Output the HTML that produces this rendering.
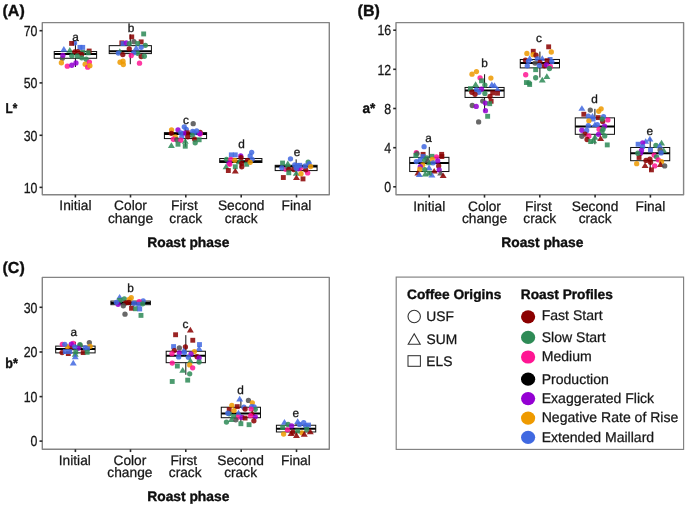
<!DOCTYPE html>
<html lang="en">
<head>
<meta charset="utf-8">
<title>Roast phase color measurements</title>
<style>
html, body { margin: 0; padding: 0; background: #ffffff; }
body { width: 685px; height: 507px; overflow: hidden; }
svg { display: block; font-family: "Liberation Sans", Arial, Helvetica, sans-serif; text-rendering: geometricPrecision; }
text.r { fill: #161616; stroke: #161616; stroke-width: 0.25px; }
text.l { stroke-width: 0.32px; }
text.b { fill: #0c0c0c; stroke: #0c0c0c; stroke-width: 0.35px; font-weight: bold; }
</style>
</head>
<body>
<svg width="685" height="507" viewBox="0 0 685 507">
<defs><filter id="soft" x="0" y="0" width="685" height="507" filterUnits="userSpaceOnUse"><feGaussianBlur stdDeviation="0.5"/></filter></defs>
<rect x="0" y="0" width="685" height="507" fill="#ffffff"/>
<g filter="url(#soft)">
<g>
<text class="b" x="2.5" y="15.5" font-size="16">(A)</text>
<line x1="75.43" y1="42.89" x2="75.43" y2="51.53" stroke="#111" stroke-width="1"/>
<line x1="75.43" y1="58.28" x2="75.43" y2="67.01" stroke="#111" stroke-width="1"/>
<rect x="54.24" y="51.53" width="42.38" height="6.75" fill="none" stroke="#111" stroke-width="1"/>
<line x1="54.24" y1="54.01" x2="96.62" y2="54.01" stroke="#000" stroke-width="2"/>
<line x1="130.31" y1="34.43" x2="130.31" y2="45.65" stroke="#111" stroke-width="1"/>
<line x1="130.31" y1="53.59" x2="130.31" y2="64.21" stroke="#111" stroke-width="1"/>
<rect x="109.22" y="45.65" width="42.18" height="7.94" fill="none" stroke="#111" stroke-width="1"/>
<line x1="109.22" y1="51.31" x2="151.40" y2="51.31" stroke="#000" stroke-width="2"/>
<line x1="185.5" y1="126.86" x2="185.5" y2="132.62" stroke="#111" stroke-width="1"/>
<line x1="185.5" y1="138.58" x2="185.5" y2="146.72" stroke="#111" stroke-width="1"/>
<rect x="164.41" y="132.62" width="42.18" height="5.96" fill="none" stroke="#111" stroke-width="1"/>
<line x1="164.41" y1="134.01" x2="206.59" y2="134.01" stroke="#000" stroke-width="2"/>
<line x1="240.8" y1="153.86" x2="240.8" y2="158.53" stroke="#111" stroke-width="1"/>
<line x1="240.8" y1="162.5" x2="240.8" y2="167.76" stroke="#111" stroke-width="1"/>
<rect x="219.71" y="158.53" width="42.18" height="3.97" fill="none" stroke="#111" stroke-width="1"/>
<line x1="219.71" y1="161.21" x2="261.89" y2="161.21" stroke="#000" stroke-width="2"/>
<line x1="296.15" y1="159.36" x2="296.15" y2="165.31" stroke="#111" stroke-width="1"/>
<line x1="296.15" y1="170.58" x2="296.15" y2="174.74" stroke="#111" stroke-width="1"/>
<rect x="275.20" y="165.31" width="41.9" height="5.27" fill="none" stroke="#111" stroke-width="1"/>
<line x1="275.20" y1="166.6" x2="317.10" y2="166.6" stroke="#000" stroke-width="2"/>
<circle cx="74.58" cy="42.89" r="2.65" fill="#4169E1" fill-opacity="0.86"/>
<rect x="69.16" y="40.95" width="4.88" height="4.88" fill="#8B0000" fill-opacity="0.86"/>
<polygon points="63.86,46.03 67.34,51.73 60.38,51.73" fill="#4169E1" fill-opacity="0.86"/>
<rect x="77.50" y="44.92" width="4.88" height="4.88" fill="#4169E1" fill-opacity="0.86"/>
<rect x="80.28" y="44.92" width="4.88" height="4.88" fill="#4169E1" fill-opacity="0.86"/>
<polygon points="69.82,47.03 73.30,52.73 66.34,52.73" fill="#2E8B57" fill-opacity="0.86"/>
<rect x="86.74" y="48.59" width="4.88" height="4.88" fill="#8B0000" fill-opacity="0.86"/>
<rect x="80.28" y="49.88" width="4.88" height="4.88" fill="#2E8B57" fill-opacity="0.86"/>
<rect x="85.74" y="50.38" width="4.88" height="4.88" fill="#2E8B57" fill-opacity="0.86"/>
<circle cx="74.78" cy="51.82" r="2.65" fill="#8B0000" fill-opacity="0.86"/>
<circle cx="77.76" cy="51.63" r="2.65" fill="#8B0000" fill-opacity="0.86"/>
<circle cx="62.37" cy="58.28" r="2.65" fill="#4f4f4f" fill-opacity="0.86"/>
<circle cx="62.87" cy="55.3" r="2.65" fill="#9400D3" fill-opacity="0.86"/>
<circle cx="81.73" cy="54.31" r="2.65" fill="#8B0000" fill-opacity="0.86"/>
<circle cx="71.8" cy="55.8" r="2.65" fill="#2E8B57" fill-opacity="0.86"/>
<circle cx="77.26" cy="55.99" r="2.65" fill="#2E8B57" fill-opacity="0.86"/>
<circle cx="81.73" cy="57.78" r="2.65" fill="#2E8B57" fill-opacity="0.86"/>
<circle cx="86.2" cy="59.27" r="2.65" fill="#2E8B57" fill-opacity="0.86"/>
<circle cx="61.38" cy="62.74" r="2.65" fill="#EE9A00" fill-opacity="0.86"/>
<circle cx="67.34" cy="66.22" r="2.65" fill="#FF1493" fill-opacity="0.86"/>
<circle cx="71.8" cy="65.23" r="2.65" fill="#9400D3" fill-opacity="0.86"/>
<circle cx="75.97" cy="62.94" r="2.65" fill="#9400D3" fill-opacity="0.86"/>
<circle cx="85.2" cy="64.23" r="2.65" fill="#EE9A00" fill-opacity="0.86"/>
<circle cx="87.69" cy="67.21" r="2.65" fill="#FF1493" fill-opacity="0.86"/>
<circle cx="89.37" cy="62.05" r="2.65" fill="#FF1493" fill-opacity="0.86"/>
<circle cx="89.87" cy="65.72" r="2.65" fill="#EE9A00" fill-opacity="0.86"/>
<rect x="141.22" y="31.49" width="4.88" height="4.88" fill="#2E8B57" fill-opacity="0.86"/>
<rect x="129.30" y="34.47" width="4.88" height="4.88" fill="#8B0000" fill-opacity="0.86"/>
<circle cx="133.93" cy="41.68" r="2.65" fill="#4f4f4f" fill-opacity="0.86"/>
<rect x="138.74" y="39.44" width="4.88" height="4.88" fill="#8B0000" fill-opacity="0.86"/>
<rect x="119.38" y="40.43" width="4.88" height="4.88" fill="#8B0000" fill-opacity="0.86"/>
<rect x="120.57" y="41.12" width="4.88" height="4.88" fill="#4169E1" fill-opacity="0.86"/>
<circle cx="126.28" cy="42.87" r="2.65" fill="#9400D3" fill-opacity="0.86"/>
<circle cx="129.26" cy="43.56" r="2.65" fill="#2E8B57" fill-opacity="0.86"/>
<rect x="135.26" y="41.12" width="4.88" height="4.88" fill="#2E8B57" fill-opacity="0.86"/>
<circle cx="145.34" cy="45.35" r="2.65" fill="#2E8B57" fill-opacity="0.86"/>
<circle cx="141.18" cy="47.34" r="2.65" fill="#4169E1" fill-opacity="0.86"/>
<polygon points="136.21,44.72 139.69,50.41 132.73,50.41" fill="#4169E1" fill-opacity="0.86"/>
<circle cx="129.26" cy="48.82" r="2.65" fill="#8B0000" fill-opacity="0.86"/>
<polygon points="119.83,48.29 123.31,53.98 116.35,53.98" fill="#2E8B57" fill-opacity="0.86"/>
<circle cx="118.34" cy="53.09" r="2.65" fill="#4169E1" fill-opacity="0.86"/>
<circle cx="122.81" cy="54.58" r="2.65" fill="#8B0000" fill-opacity="0.86"/>
<circle cx="137.7" cy="53.29" r="2.65" fill="#2E8B57" fill-opacity="0.86"/>
<circle cx="133.73" cy="52.8" r="2.65" fill="#4169E1" fill-opacity="0.86"/>
<circle cx="131.25" cy="55.58" r="2.65" fill="#FF1493" fill-opacity="0.86"/>
<circle cx="141.18" cy="56.57" r="2.65" fill="#8B0000" fill-opacity="0.86"/>
<circle cx="144.35" cy="56.27" r="2.65" fill="#2E8B57" fill-opacity="0.86"/>
<circle cx="120.03" cy="62.23" r="2.65" fill="#EE9A00" fill-opacity="0.86"/>
<circle cx="123.01" cy="61.23" r="2.65" fill="#EE9A00" fill-opacity="0.86"/>
<circle cx="123.31" cy="64.51" r="2.65" fill="#EE9A00" fill-opacity="0.86"/>
<circle cx="139.49" cy="63.22" r="2.65" fill="#FF1493" fill-opacity="0.86"/>
<circle cx="193.2" cy="123.68" r="2.65" fill="#4f4f4f" fill-opacity="0.86"/>
<circle cx="184.26" cy="126.86" r="2.65" fill="#4169E1" fill-opacity="0.86"/>
<circle cx="186.25" cy="129.34" r="2.65" fill="#4169E1" fill-opacity="0.86"/>
<circle cx="171.56" cy="129.84" r="2.65" fill="#EE9A00" fill-opacity="0.86"/>
<circle cx="178.01" cy="129.84" r="2.65" fill="#9400D3" fill-opacity="0.86"/>
<circle cx="171.36" cy="133.31" r="2.65" fill="#8B0000" fill-opacity="0.86"/>
<circle cx="200.15" cy="132.32" r="2.65" fill="#8B0000" fill-opacity="0.86"/>
<circle cx="200.15" cy="134.01" r="2.65" fill="#FF1493" fill-opacity="0.86"/>
<circle cx="199.65" cy="133.61" r="2.65" fill="#9400D3" fill-opacity="0.86"/>
<rect x="184.80" y="130.38" width="4.88" height="4.88" fill="#8B0000" fill-opacity="0.86"/>
<rect x="181.33" y="130.87" width="4.88" height="4.88" fill="#9400D3" fill-opacity="0.86"/>
<circle cx="180.79" cy="132.82" r="2.65" fill="#4169E1" fill-opacity="0.86"/>
<circle cx="192.7" cy="131.33" r="2.65" fill="#4169E1" fill-opacity="0.86"/>
<circle cx="196.67" cy="130.83" r="2.65" fill="#4169E1" fill-opacity="0.86"/>
<rect x="191.75" y="130.38" width="4.88" height="4.88" fill="#4169E1" fill-opacity="0.86"/>
<circle cx="192.2" cy="135.3" r="2.65" fill="#2E8B57" fill-opacity="0.86"/>
<circle cx="187.74" cy="136.79" r="2.65" fill="#8B0000" fill-opacity="0.86"/>
<circle cx="175.33" cy="136.79" r="2.65" fill="#EE9A00" fill-opacity="0.86"/>
<circle cx="181.78" cy="136.79" r="2.65" fill="#4169E1" fill-opacity="0.86"/>
<circle cx="173.34" cy="139.27" r="2.65" fill="#FF1493" fill-opacity="0.86"/>
<circle cx="176.82" cy="139.77" r="2.65" fill="#4f4f4f" fill-opacity="0.86"/>
<circle cx="180.79" cy="140.26" r="2.65" fill="#FF1493" fill-opacity="0.86"/>
<circle cx="194.69" cy="139.27" r="2.65" fill="#8B0000" fill-opacity="0.86"/>
<rect x="196.71" y="137.33" width="4.88" height="4.88" fill="#2E8B57" fill-opacity="0.86"/>
<polygon points="171.36,142.21 174.84,147.91 167.88,147.91" fill="#2E8B57" fill-opacity="0.86"/>
<rect x="175.57" y="141.79" width="4.88" height="4.88" fill="#2E8B57" fill-opacity="0.86"/>
<polygon points="185.26,137.95 188.74,143.64 181.78,143.64" fill="#2E8B57" fill-opacity="0.86"/>
<rect x="182.82" y="143.78" width="4.88" height="4.88" fill="#2E8B57" fill-opacity="0.86"/>
<circle cx="195.18" cy="142.74" r="2.65" fill="#2E8B57" fill-opacity="0.86"/>
<circle cx="251.67" cy="152.37" r="2.65" fill="#4169E1" fill-opacity="0.86"/>
<circle cx="250.18" cy="155.85" r="2.65" fill="#4169E1" fill-opacity="0.86"/>
<rect x="228.88" y="152.41" width="4.88" height="4.88" fill="#4169E1" fill-opacity="0.86"/>
<rect x="232.85" y="152.41" width="4.88" height="4.88" fill="#4169E1" fill-opacity="0.86"/>
<circle cx="240.75" cy="155.85" r="2.65" fill="#9400D3" fill-opacity="0.86"/>
<circle cx="241.05" cy="157.63" r="2.65" fill="#8B0000" fill-opacity="0.86"/>
<circle cx="252.17" cy="159.32" r="2.65" fill="#4169E1" fill-opacity="0.86"/>
<circle cx="226.56" cy="159.32" r="2.65" fill="#2E8B57" fill-opacity="0.86"/>
<circle cx="230.82" cy="159.32" r="2.65" fill="#FF1493" fill-opacity="0.86"/>
<circle cx="234.8" cy="160.31" r="2.65" fill="#EE9A00" fill-opacity="0.86"/>
<circle cx="247.5" cy="160.31" r="2.65" fill="#8B0000" fill-opacity="0.86"/>
<polygon points="239.26,158.49 242.74,164.19 235.78,164.19" fill="#2E8B57" fill-opacity="0.86"/>
<circle cx="229.04" cy="163.29" r="2.65" fill="#9400D3" fill-opacity="0.86"/>
<circle cx="229.83" cy="164.28" r="2.65" fill="#FF1493" fill-opacity="0.86"/>
<circle cx="241.74" cy="163.29" r="2.65" fill="#8B0000" fill-opacity="0.86"/>
<rect x="244.27" y="161.84" width="4.88" height="4.88" fill="#2E8B57" fill-opacity="0.86"/>
<circle cx="250.18" cy="162.3" r="2.65" fill="#EE9A00" fill-opacity="0.86"/>
<circle cx="241.74" cy="166.77" r="2.65" fill="#8B0000" fill-opacity="0.86"/>
<polygon points="226.06,163.46 229.54,169.16 222.58,169.16" fill="#2E8B57" fill-opacity="0.86"/>
<rect x="232.85" y="164.33" width="4.88" height="4.88" fill="#2E8B57" fill-opacity="0.86"/>
<rect x="225.90" y="168.10" width="4.88" height="4.88" fill="#8B0000" fill-opacity="0.86"/>
<polygon points="235.29,167.92 238.77,173.61 231.81,173.61" fill="#8B0000" fill-opacity="0.86"/>
<circle cx="285.82" cy="169.28" r="2.65" fill="#FF1493" fill-opacity="0.86"/>
<circle cx="300.22" cy="168.29" r="2.65" fill="#FF1493" fill-opacity="0.86"/>
<circle cx="307.66" cy="172.96" r="2.65" fill="#FF1493" fill-opacity="0.86"/>
<circle cx="290.49" cy="158.86" r="2.65" fill="#4169E1" fill-opacity="0.86"/>
<rect x="280.11" y="160.59" width="4.88" height="4.88" fill="#2E8B57" fill-opacity="0.86"/>
<polygon points="287.81,160.51 291.29,166.20 284.33,166.20" fill="#2E8B57" fill-opacity="0.86"/>
<circle cx="308.16" cy="162.04" r="2.65" fill="#2E8B57" fill-opacity="0.86"/>
<circle cx="309.15" cy="163.63" r="2.65" fill="#4169E1" fill-opacity="0.86"/>
<circle cx="310.64" cy="166.6" r="2.65" fill="#EE9A00" fill-opacity="0.86"/>
<circle cx="281.85" cy="167.8" r="2.65" fill="#4169E1" fill-opacity="0.86"/>
<rect x="285.37" y="164.56" width="4.88" height="4.88" fill="#2E8B57" fill-opacity="0.86"/>
<circle cx="288.8" cy="169.48" r="2.65" fill="#8B0000" fill-opacity="0.86"/>
<circle cx="293.77" cy="169.48" r="2.65" fill="#8B0000" fill-opacity="0.86"/>
<circle cx="297.94" cy="168.79" r="2.65" fill="#9400D3" fill-opacity="0.86"/>
<circle cx="305.68" cy="169.78" r="2.65" fill="#8B0000" fill-opacity="0.86"/>
<rect x="286.36" y="170.32" width="4.88" height="4.88" fill="#2E8B57" fill-opacity="0.86"/>
<polygon points="296.25,169.95 299.73,175.64 292.77,175.64" fill="#2E8B57" fill-opacity="0.86"/>
<circle cx="301.01" cy="173.75" r="2.65" fill="#EE9A00" fill-opacity="0.86"/>
<circle cx="294.76" cy="165.02" r="2.65" fill="#4169E1" fill-opacity="0.86"/>
<rect x="294.80" y="163.17" width="4.88" height="4.88" fill="#4169E1" fill-opacity="0.86"/>
<rect x="297.28" y="162.87" width="4.88" height="4.88" fill="#4169E1" fill-opacity="0.86"/>
<circle cx="305.18" cy="166.01" r="2.65" fill="#4169E1" fill-opacity="0.86"/>
<circle cx="296.25" cy="168.29" r="2.65" fill="#4169E1" fill-opacity="0.86"/>
<rect x="280.90" y="175.08" width="4.88" height="4.88" fill="#8B0000" fill-opacity="0.86"/>
<polygon points="296.45,174.41 299.93,180.10 292.97,180.10" fill="#8B0000" fill-opacity="0.86"/>
<rect x="300.56" y="176.47" width="4.88" height="4.88" fill="#8B0000" fill-opacity="0.86"/>
<text class="r l" x="75.58" y="40.81" font-size="11.8" text-anchor="middle">a</text>
<text class="r l" x="131.05" y="32.15" font-size="11.8" text-anchor="middle">b</text>
<text class="r l" x="186.05" y="124.28" font-size="11.8" text-anchor="middle">c</text>
<text class="r l" x="241.45" y="148.31" font-size="11.8" text-anchor="middle">d</text>
<text class="r l" x="296.94" y="156.08" font-size="11.8" text-anchor="middle">e</text>
<rect x="42.3" y="22.6" width="287.00" height="172.10" fill="none" stroke="#848484" stroke-width="1.4" stroke-linejoin="round"/>
<line x1="39.5" y1="30.7" x2="42.3" y2="30.7" stroke="#2a2a2a" stroke-width="1.6"/>
<text class="r" transform="translate(37.50,35.90) scale(0.885,1.04)" font-size="14.0" text-anchor="end">70</text>
<line x1="39.5" y1="82.9" x2="42.3" y2="82.9" stroke="#2a2a2a" stroke-width="1.6"/>
<text class="r" transform="translate(37.50,88.10) scale(0.885,1.04)" font-size="14.0" text-anchor="end">50</text>
<line x1="39.5" y1="135.3" x2="42.3" y2="135.3" stroke="#2a2a2a" stroke-width="1.6"/>
<text class="r" transform="translate(37.50,140.50) scale(0.885,1.04)" font-size="14.0" text-anchor="end">30</text>
<line x1="39.5" y1="187.4" x2="42.3" y2="187.4" stroke="#2a2a2a" stroke-width="1.6"/>
<text class="r" transform="translate(37.50,192.60) scale(0.885,1.04)" font-size="14.0" text-anchor="end">10</text>
<line x1="75.4" y1="194.7" x2="75.4" y2="197.5" stroke="#2a2a2a" stroke-width="1.6"/>
<text class="r" x="75.40" y="210.20" font-size="13.75" text-anchor="middle">Initial</text>
<line x1="130.5" y1="194.7" x2="130.5" y2="197.5" stroke="#2a2a2a" stroke-width="1.6"/>
<text class="r" x="130.50" y="210.20" font-size="13.75" text-anchor="middle">Color</text>
<text class="r" x="130.50" y="222.60" font-size="13.75" text-anchor="middle">change</text>
<line x1="185.8" y1="194.7" x2="185.8" y2="197.5" stroke="#2a2a2a" stroke-width="1.6"/>
<text class="r" x="184.40" y="210.20" font-size="13.75" text-anchor="middle">First</text>
<text class="r" x="185.80" y="222.60" font-size="13.75" text-anchor="middle">crack</text>
<line x1="241.2" y1="194.7" x2="241.2" y2="197.5" stroke="#2a2a2a" stroke-width="1.6"/>
<text class="r" x="241.20" y="210.20" font-size="13.75" text-anchor="middle">Second</text>
<text class="r" x="241.20" y="222.60" font-size="13.75" text-anchor="middle">crack</text>
<line x1="296.5" y1="194.7" x2="296.5" y2="197.5" stroke="#2a2a2a" stroke-width="1.6"/>
<text class="r" x="296.50" y="210.20" font-size="13.75" text-anchor="middle">Final</text>
<text class="b" transform="translate(5.5,113.0) scale(0.85,1.03)" font-size="13.8">L*</text>
<text class="b" x="188.30" y="246.7" font-size="13.8" text-anchor="middle">Roast phase</text>
</g>
<g>
<text class="b" x="357.6" y="15.5" font-size="16">(B)</text>
<line x1="429.3" y1="146.91" x2="429.3" y2="157.34" stroke="#111" stroke-width="1"/>
<line x1="429.3" y1="171.53" x2="429.3" y2="174.71" stroke="#111" stroke-width="1"/>
<rect x="409.69" y="157.34" width="39.22" height="14.19" fill="none" stroke="#111" stroke-width="1"/>
<line x1="409.69" y1="162.99" x2="448.91" y2="162.99" stroke="#000" stroke-width="2"/>
<line x1="484.58" y1="74.22" x2="484.58" y2="87.45" stroke="#111" stroke-width="1"/>
<line x1="484.58" y1="97.43" x2="484.58" y2="111.49" stroke="#111" stroke-width="1"/>
<rect x="465.04" y="87.45" width="39.08" height="9.98" fill="none" stroke="#111" stroke-width="1"/>
<line x1="465.04" y1="90.45" x2="504.12" y2="90.45" stroke="#000" stroke-width="2"/>
<line x1="539.88" y1="51.64" x2="539.88" y2="59.46" stroke="#111" stroke-width="1"/>
<line x1="539.88" y1="67.87" x2="539.88" y2="77.49" stroke="#111" stroke-width="1"/>
<rect x="520.28" y="59.46" width="39.2" height="8.41" fill="none" stroke="#111" stroke-width="1"/>
<line x1="520.28" y1="63.06" x2="559.48" y2="63.06" stroke="#000" stroke-width="2"/>
<line x1="594.88" y1="108.83" x2="594.88" y2="117.85" stroke="#111" stroke-width="1"/>
<line x1="594.88" y1="134.32" x2="594.88" y2="144.3" stroke="#111" stroke-width="1"/>
<rect x="575.28" y="117.85" width="39.2" height="16.47" fill="none" stroke="#111" stroke-width="1"/>
<line x1="575.28" y1="126.51" x2="614.48" y2="126.51" stroke="#000" stroke-width="2"/>
<line x1="650.19" y1="138.23" x2="650.19" y2="147.48" stroke="#111" stroke-width="1"/>
<line x1="650.19" y1="160.71" x2="650.19" y2="170.69" stroke="#111" stroke-width="1"/>
<rect x="630.65" y="147.48" width="39.08" height="13.23" fill="none" stroke="#111" stroke-width="1"/>
<line x1="630.65" y1="153.26" x2="669.73" y2="153.26" stroke="#000" stroke-width="2"/>
<circle cx="424.09" cy="146.71" r="2.65" fill="#4169E1" fill-opacity="0.86"/>
<circle cx="416.34" cy="152.67" r="2.65" fill="#FF1493" fill-opacity="0.86"/>
<circle cx="417.04" cy="153.56" r="2.65" fill="#4f4f4f" fill-opacity="0.86"/>
<rect x="413.41" y="153.11" width="4.88" height="4.88" fill="#2E8B57" fill-opacity="0.86"/>
<rect x="420.65" y="151.92" width="4.88" height="4.88" fill="#8B0000" fill-opacity="0.86"/>
<rect x="420.65" y="154.10" width="4.88" height="4.88" fill="#4169E1" fill-opacity="0.86"/>
<rect x="439.22" y="151.92" width="4.88" height="4.88" fill="#8B0000" fill-opacity="0.86"/>
<rect x="439.42" y="154.10" width="4.88" height="4.88" fill="#8B0000" fill-opacity="0.86"/>
<rect x="429.59" y="153.90" width="4.88" height="4.88" fill="#2E8B57" fill-opacity="0.86"/>
<circle cx="436.49" cy="156.84" r="2.65" fill="#FF1493" fill-opacity="0.86"/>
<circle cx="426.77" cy="157.83" r="2.65" fill="#2E8B57" fill-opacity="0.86"/>
<circle cx="432.23" cy="159.32" r="2.65" fill="#EE9A00" fill-opacity="0.86"/>
<circle cx="416.34" cy="161.6" r="2.65" fill="#4169E1" fill-opacity="0.86"/>
<circle cx="420.31" cy="159.82" r="2.65" fill="#4169E1" fill-opacity="0.86"/>
<circle cx="424.78" cy="160.31" r="2.65" fill="#2E8B57" fill-opacity="0.86"/>
<polygon points="427.76,157.00 431.24,162.69 424.28,162.69" fill="#4f4f4f" fill-opacity="0.86"/>
<circle cx="437.69" cy="161.01" r="2.65" fill="#9400D3" fill-opacity="0.86"/>
<polygon points="429.25,159.49 432.73,165.19 425.77,165.19" fill="#2E8B57" fill-opacity="0.86"/>
<circle cx="433.22" cy="162.8" r="2.65" fill="#4169E1" fill-opacity="0.86"/>
<circle cx="422.8" cy="164.78" r="2.65" fill="#EE9A00" fill-opacity="0.86"/>
<circle cx="438.68" cy="165.97" r="2.65" fill="#8B0000" fill-opacity="0.86"/>
<circle cx="420.31" cy="166.77" r="2.65" fill="#9400D3" fill-opacity="0.86"/>
<circle cx="419.82" cy="169.25" r="2.65" fill="#EE9A00" fill-opacity="0.86"/>
<polygon points="429.05,164.45 432.53,170.14 425.57,170.14" fill="#4169E1" fill-opacity="0.86"/>
<circle cx="424.78" cy="169.74" r="2.65" fill="#2E8B57" fill-opacity="0.86"/>
<circle cx="439.18" cy="169.94" r="2.65" fill="#9400D3" fill-opacity="0.86"/>
<polygon points="434.21,167.92 437.69,173.61 430.73,173.61" fill="#8B0000" fill-opacity="0.86"/>
<polygon points="417.83,169.91 421.31,175.60 414.35,175.60" fill="#8B0000" fill-opacity="0.86"/>
<polygon points="419.32,171.40 422.80,177.09 415.84,177.09" fill="#4169E1" fill-opacity="0.86"/>
<polygon points="425.28,170.90 428.76,176.59 421.80,176.59" fill="#2E8B57" fill-opacity="0.86"/>
<polygon points="431.93,171.89 435.41,177.58 428.45,177.58" fill="#4169E1" fill-opacity="0.86"/>
<polygon points="440.66,169.91 444.14,175.60 437.18,175.60" fill="#4f4f4f" fill-opacity="0.86"/>
<polygon points="443.15,172.39 446.63,178.08 439.67,178.08" fill="#8B0000" fill-opacity="0.86"/>
<rect x="426.81" y="170.78" width="4.88" height="4.88" fill="#2E8B57" fill-opacity="0.86"/>
<circle cx="476.46" cy="71.57" r="2.65" fill="#EE9A00" fill-opacity="0.86"/>
<circle cx="472.01" cy="74.22" r="2.65" fill="#EE9A00" fill-opacity="0.86"/>
<circle cx="480.07" cy="77.83" r="2.65" fill="#FF1493" fill-opacity="0.86"/>
<circle cx="490.89" cy="78.07" r="2.65" fill="#EE9A00" fill-opacity="0.86"/>
<rect x="479.07" y="78.39" width="4.88" height="4.88" fill="#2E8B57" fill-opacity="0.86"/>
<polygon points="475.62,81.37 479.10,87.07 472.14,87.07" fill="#2E8B57" fill-opacity="0.86"/>
<circle cx="484.88" cy="85.04" r="2.65" fill="#2E8B57" fill-opacity="0.86"/>
<polygon points="491.85,81.61 495.33,87.31 488.37,87.31" fill="#4169E1" fill-opacity="0.86"/>
<polygon points="494.50,82.33 497.98,88.03 491.02,88.03" fill="#4169E1" fill-opacity="0.86"/>
<rect x="468.01" y="86.21" width="4.88" height="4.88" fill="#2E8B57" fill-opacity="0.86"/>
<circle cx="476.46" cy="89.85" r="2.65" fill="#4169E1" fill-opacity="0.86"/>
<circle cx="481.51" cy="89.25" r="2.65" fill="#9400D3" fill-opacity="0.86"/>
<polygon points="497.50,86.18 500.98,91.88 494.02,91.88" fill="#4169E1" fill-opacity="0.86"/>
<circle cx="478.87" cy="92.26" r="2.65" fill="#4169E1" fill-opacity="0.86"/>
<circle cx="484.88" cy="93.46" r="2.65" fill="#2E8B57" fill-opacity="0.86"/>
<circle cx="471.89" cy="92.26" r="2.65" fill="#8B0000" fill-opacity="0.86"/>
<circle cx="475.02" cy="94.3" r="2.65" fill="#8B0000" fill-opacity="0.86"/>
<rect x="490.26" y="90.42" width="4.88" height="4.88" fill="#8B0000" fill-opacity="0.86"/>
<rect x="495.06" y="90.78" width="4.88" height="4.88" fill="#8B0000" fill-opacity="0.86"/>
<circle cx="490.05" cy="96.46" r="2.65" fill="#8B0000" fill-opacity="0.86"/>
<rect x="488.69" y="98.83" width="4.88" height="4.88" fill="#8B0000" fill-opacity="0.86"/>
<circle cx="482.72" cy="101.03" r="2.65" fill="#4f4f4f" fill-opacity="0.86"/>
<circle cx="485.48" cy="103.08" r="2.65" fill="#9400D3" fill-opacity="0.86"/>
<rect x="487.25" y="101.24" width="4.88" height="4.88" fill="#2E8B57" fill-opacity="0.86"/>
<circle cx="472.26" cy="105.48" r="2.65" fill="#4f4f4f" fill-opacity="0.86"/>
<circle cx="476.22" cy="106.44" r="2.65" fill="#9400D3" fill-opacity="0.86"/>
<circle cx="485.48" cy="110.65" r="2.65" fill="#9400D3" fill-opacity="0.86"/>
<rect x="485.21" y="113.86" width="4.88" height="4.88" fill="#2E8B57" fill-opacity="0.86"/>
<circle cx="478.63" cy="121.95" r="2.65" fill="#4f4f4f" fill-opacity="0.86"/>
<rect x="546.22" y="44.39" width="4.88" height="4.88" fill="#8B0000" fill-opacity="0.86"/>
<rect x="530.83" y="48.84" width="4.88" height="4.88" fill="#8B0000" fill-opacity="0.86"/>
<circle cx="551.3" cy="52.0" r="2.65" fill="#EE9A00" fill-opacity="0.86"/>
<circle cx="526.89" cy="53.45" r="2.65" fill="#EE9A00" fill-opacity="0.86"/>
<circle cx="533.03" cy="54.65" r="2.65" fill="#EE9A00" fill-opacity="0.86"/>
<circle cx="536.03" cy="55.25" r="2.65" fill="#8B0000" fill-opacity="0.86"/>
<circle cx="525.45" cy="60.06" r="2.65" fill="#8B0000" fill-opacity="0.86"/>
<polygon points="529.66,55.19 533.14,60.88 526.18,60.88" fill="#4169E1" fill-opacity="0.86"/>
<circle cx="537.48" cy="58.86" r="2.65" fill="#4169E1" fill-opacity="0.86"/>
<polygon points="542.28,55.19 545.76,60.88 538.80,60.88" fill="#4169E1" fill-opacity="0.86"/>
<rect x="547.66" y="57.02" width="4.88" height="4.88" fill="#4169E1" fill-opacity="0.86"/>
<rect x="544.65" y="58.22" width="4.88" height="4.88" fill="#8B0000" fill-opacity="0.86"/>
<circle cx="528.46" cy="61.26" r="2.65" fill="#4169E1" fill-opacity="0.86"/>
<circle cx="551.9" cy="61.86" r="2.65" fill="#4169E1" fill-opacity="0.86"/>
<circle cx="539.88" cy="62.46" r="2.65" fill="#8B0000" fill-opacity="0.86"/>
<circle cx="527.26" cy="65.83" r="2.65" fill="#4169E1" fill-opacity="0.86"/>
<circle cx="535.07" cy="63.06" r="2.65" fill="#4f4f4f" fill-opacity="0.86"/>
<circle cx="539.28" cy="65.47" r="2.65" fill="#4169E1" fill-opacity="0.86"/>
<circle cx="544.45" cy="65.83" r="2.65" fill="#8B0000" fill-opacity="0.86"/>
<circle cx="546.49" cy="64.87" r="2.65" fill="#9400D3" fill-opacity="0.86"/>
<circle cx="550.34" cy="66.67" r="2.65" fill="#FF1493" fill-opacity="0.86"/>
<circle cx="549.5" cy="68.48" r="2.65" fill="#2E8B57" fill-opacity="0.86"/>
<rect x="533.23" y="67.24" width="4.88" height="4.88" fill="#2E8B57" fill-opacity="0.86"/>
<circle cx="525.69" cy="74.73" r="2.65" fill="#FF1493" fill-opacity="0.86"/>
<circle cx="535.67" cy="77.73" r="2.65" fill="#2E8B57" fill-opacity="0.86"/>
<polygon points="546.85,73.22 550.33,78.92 543.37,78.92" fill="#2E8B57" fill-opacity="0.86"/>
<polygon points="542.28,76.83 545.76,82.53 538.80,82.53" fill="#2E8B57" fill-opacity="0.86"/>
<rect x="523.97" y="80.10" width="4.88" height="4.88" fill="#2E8B57" fill-opacity="0.86"/>
<rect x="527.22" y="82.03" width="4.88" height="4.88" fill="#2E8B57" fill-opacity="0.86"/>
<circle cx="529.06" cy="82.9" r="2.65" fill="#2E8B57" fill-opacity="0.86"/>
<polygon points="581.89,105.16 585.37,110.86 578.41,110.86" fill="#4169E1" fill-opacity="0.86"/>
<circle cx="590.31" cy="110.04" r="2.65" fill="#4f4f4f" fill-opacity="0.86"/>
<circle cx="601.13" cy="108.83" r="2.65" fill="#EE9A00" fill-opacity="0.86"/>
<circle cx="598.73" cy="111.24" r="2.65" fill="#EE9A00" fill-opacity="0.86"/>
<rect x="581.38" y="111.80" width="4.88" height="4.88" fill="#8B0000" fill-opacity="0.86"/>
<circle cx="588.27" cy="116.05" r="2.65" fill="#4169E1" fill-opacity="0.86"/>
<polygon points="592.48,112.98 595.96,118.68 589.00,118.68" fill="#4169E1" fill-opacity="0.86"/>
<rect x="595.81" y="115.17" width="4.88" height="4.88" fill="#8B0000" fill-opacity="0.86"/>
<circle cx="603.54" cy="116.65" r="2.65" fill="#4169E1" fill-opacity="0.86"/>
<rect x="590.64" y="116.61" width="4.88" height="4.88" fill="#4169E1" fill-opacity="0.86"/>
<circle cx="588.87" cy="120.86" r="2.65" fill="#EE9A00" fill-opacity="0.86"/>
<circle cx="607.87" cy="119.89" r="2.65" fill="#FF1493" fill-opacity="0.86"/>
<circle cx="602.7" cy="121.46" r="2.65" fill="#8B0000" fill-opacity="0.86"/>
<circle cx="602.09" cy="119.05" r="2.65" fill="#2E8B57" fill-opacity="0.86"/>
<circle cx="588.27" cy="125.67" r="2.65" fill="#4169E1" fill-opacity="0.86"/>
<polygon points="594.88,121.39 598.36,127.09 591.40,127.09" fill="#4169E1" fill-opacity="0.86"/>
<circle cx="597.28" cy="124.7" r="2.65" fill="#4169E1" fill-opacity="0.86"/>
<circle cx="604.5" cy="126.27" r="2.65" fill="#9400D3" fill-opacity="0.86"/>
<circle cx="581.89" cy="130.23" r="2.65" fill="#9400D3" fill-opacity="0.86"/>
<circle cx="586.7" cy="130.48" r="2.65" fill="#4169E1" fill-opacity="0.86"/>
<circle cx="599.09" cy="129.27" r="2.65" fill="#FF1493" fill-opacity="0.86"/>
<circle cx="603.06" cy="129.27" r="2.65" fill="#2E8B57" fill-opacity="0.86"/>
<rect x="599.65" y="129.24" width="4.88" height="4.88" fill="#2E8B57" fill-opacity="0.86"/>
<circle cx="585.02" cy="134.08" r="2.65" fill="#8B0000" fill-opacity="0.86"/>
<circle cx="598.49" cy="134.32" r="2.65" fill="#9400D3" fill-opacity="0.86"/>
<circle cx="588.87" cy="135.89" r="2.65" fill="#FF1493" fill-opacity="0.86"/>
<circle cx="581.89" cy="136.25" r="2.65" fill="#4f4f4f" fill-opacity="0.86"/>
<circle cx="604.74" cy="135.89" r="2.65" fill="#2E8B57" fill-opacity="0.86"/>
<polygon points="594.88,134.02 598.36,139.72 591.40,139.72" fill="#2E8B57" fill-opacity="0.86"/>
<polygon points="600.65,135.22 604.13,140.91 597.17,140.91" fill="#8B0000" fill-opacity="0.86"/>
<circle cx="587.06" cy="139.49" r="2.65" fill="#8B0000" fill-opacity="0.86"/>
<rect x="588.23" y="139.10" width="4.88" height="4.88" fill="#2E8B57" fill-opacity="0.86"/>
<polygon points="593.68,137.63 597.16,143.32 590.20,143.32" fill="#2E8B57" fill-opacity="0.86"/>
<rect x="604.82" y="142.46" width="4.88" height="4.88" fill="#2E8B57" fill-opacity="0.86"/>
<polygon points="649.89,135.76 653.37,141.45 646.41,141.45" fill="#4169E1" fill-opacity="0.86"/>
<polygon points="645.68,138.16 649.16,143.85 642.20,143.85" fill="#4169E1" fill-opacity="0.86"/>
<circle cx="642.68" cy="142.79" r="2.65" fill="#9400D3" fill-opacity="0.86"/>
<rect x="635.67" y="141.80" width="4.88" height="4.88" fill="#4169E1" fill-opacity="0.86"/>
<polygon points="661.55,139.73 665.03,145.42 658.07,145.42" fill="#2E8B57" fill-opacity="0.86"/>
<circle cx="655.9" cy="145.44" r="2.65" fill="#2E8B57" fill-opacity="0.86"/>
<polygon points="659.75,142.61 663.23,148.30 656.27,148.30" fill="#4169E1" fill-opacity="0.86"/>
<circle cx="642.68" cy="146.64" r="2.65" fill="#4169E1" fill-opacity="0.86"/>
<rect x="648.05" y="147.45" width="4.88" height="4.88" fill="#4169E1" fill-opacity="0.86"/>
<circle cx="641.48" cy="150.49" r="2.65" fill="#9400D3" fill-opacity="0.86"/>
<circle cx="640.51" cy="153.26" r="2.65" fill="#9400D3" fill-opacity="0.86"/>
<polygon points="663.72,147.18 667.20,152.88 660.24,152.88" fill="#2E8B57" fill-opacity="0.86"/>
<circle cx="660.11" cy="149.89" r="2.65" fill="#4f4f4f" fill-opacity="0.86"/>
<circle cx="661.07" cy="152.89" r="2.65" fill="#4169E1" fill-opacity="0.86"/>
<circle cx="654.1" cy="155.06" r="2.65" fill="#FF1493" fill-opacity="0.86"/>
<circle cx="656.5" cy="156.86" r="2.65" fill="#2E8B57" fill-opacity="0.86"/>
<rect x="636.63" y="155.02" width="4.88" height="4.88" fill="#8B0000" fill-opacity="0.86"/>
<circle cx="637.87" cy="153.26" r="2.65" fill="#2E8B57" fill-opacity="0.86"/>
<circle cx="649.89" cy="159.27" r="2.65" fill="#8B0000" fill-opacity="0.86"/>
<circle cx="646.04" cy="160.47" r="2.65" fill="#8B0000" fill-opacity="0.86"/>
<circle cx="658.31" cy="159.87" r="2.65" fill="#FF1493" fill-opacity="0.86"/>
<circle cx="661.55" cy="161.67" r="2.65" fill="#EE9A00" fill-opacity="0.86"/>
<circle cx="636.67" cy="163.72" r="2.65" fill="#EE9A00" fill-opacity="0.86"/>
<polygon points="645.08,162.21 648.56,167.91 641.60,167.91" fill="#8B0000" fill-opacity="0.86"/>
<circle cx="650.49" cy="162.27" r="2.65" fill="#8B0000" fill-opacity="0.86"/>
<circle cx="654.7" cy="165.88" r="2.65" fill="#FF1493" fill-opacity="0.86"/>
<polygon points="660.47,161.37 663.95,167.06 656.99,167.06" fill="#8B0000" fill-opacity="0.86"/>
<circle cx="664.68" cy="165.88" r="2.65" fill="#4f4f4f" fill-opacity="0.86"/>
<rect x="649.01" y="167.41" width="4.88" height="4.88" fill="#8B0000" fill-opacity="0.86"/>
<text class="r l" x="428.45" y="141.85" font-size="11.8" text-anchor="middle">a</text>
<text class="r l" x="484.52" y="67.41" font-size="11.8" text-anchor="middle">b</text>
<text class="r l" x="538.92" y="41.82" font-size="11.8" text-anchor="middle">c</text>
<text class="r l" x="594.52" y="102.98" font-size="11.8" text-anchor="middle">d</text>
<text class="r l" x="649.89" y="135.02" font-size="11.8" text-anchor="middle">e</text>
<rect x="396.0" y="22.6" width="287.60" height="172.20" fill="none" stroke="#848484" stroke-width="1.4" stroke-linejoin="round"/>
<line x1="393.2" y1="30.2" x2="396.0" y2="30.2" stroke="#2a2a2a" stroke-width="1.6"/>
<text class="r" transform="translate(391.20,35.40) scale(0.885,1.04)" font-size="14.0" text-anchor="end">16</text>
<line x1="393.2" y1="69.3" x2="396.0" y2="69.3" stroke="#2a2a2a" stroke-width="1.6"/>
<text class="r" transform="translate(391.20,74.50) scale(0.885,1.04)" font-size="14.0" text-anchor="end">12</text>
<line x1="393.2" y1="108.5" x2="396.0" y2="108.5" stroke="#2a2a2a" stroke-width="1.6"/>
<text class="r" transform="translate(391.20,113.70) scale(0.885,1.04)" font-size="14.0" text-anchor="end">8</text>
<line x1="393.2" y1="147.7" x2="396.0" y2="147.7" stroke="#2a2a2a" stroke-width="1.6"/>
<text class="r" transform="translate(391.20,152.90) scale(0.885,1.04)" font-size="14.0" text-anchor="end">4</text>
<line x1="393.2" y1="186.8" x2="396.0" y2="186.8" stroke="#2a2a2a" stroke-width="1.6"/>
<text class="r" transform="translate(391.20,192.00) scale(0.885,1.04)" font-size="14.0" text-anchor="end">0</text>
<line x1="429.2" y1="194.8" x2="429.2" y2="197.60000000000002" stroke="#2a2a2a" stroke-width="1.6"/>
<text class="r" x="429.20" y="210.50" font-size="13.75" text-anchor="middle">Initial</text>
<line x1="484.5" y1="194.8" x2="484.5" y2="197.60000000000002" stroke="#2a2a2a" stroke-width="1.6"/>
<text class="r" x="484.50" y="210.50" font-size="13.75" text-anchor="middle">Color</text>
<text class="r" x="484.50" y="222.90" font-size="13.75" text-anchor="middle">change</text>
<line x1="539.8" y1="194.8" x2="539.8" y2="197.60000000000002" stroke="#2a2a2a" stroke-width="1.6"/>
<text class="r" x="538.40" y="210.50" font-size="13.75" text-anchor="middle">First</text>
<text class="r" x="539.80" y="222.90" font-size="13.75" text-anchor="middle">crack</text>
<line x1="595.1" y1="194.8" x2="595.1" y2="197.60000000000002" stroke="#2a2a2a" stroke-width="1.6"/>
<text class="r" x="595.10" y="210.50" font-size="13.75" text-anchor="middle">Second</text>
<text class="r" x="595.10" y="222.90" font-size="13.75" text-anchor="middle">crack</text>
<line x1="650.4" y1="194.8" x2="650.4" y2="197.60000000000002" stroke="#2a2a2a" stroke-width="1.6"/>
<text class="r" x="650.40" y="210.50" font-size="13.75" text-anchor="middle">Final</text>
<text class="b" transform="translate(362.5,113.2) scale(0.98,1.03)" font-size="13.8">a*</text>
<text class="b" x="542.30" y="246.7" font-size="13.8" text-anchor="middle">Roast phase</text>
</g>
<g>
<text class="b" x="2.5" y="272.8" font-size="16">(C)</text>
<line x1="75.4" y1="341.85" x2="75.4" y2="346.12" stroke="#111" stroke-width="1"/>
<line x1="75.4" y1="352.87" x2="75.4" y2="356.25" stroke="#111" stroke-width="1"/>
<rect x="55.69" y="346.12" width="39.42" height="6.75" fill="none" stroke="#111" stroke-width="1"/>
<line x1="55.69" y1="349.0" x2="95.11" y2="349.0" stroke="#000" stroke-width="2"/>
<line x1="130.65" y1="299.82" x2="130.65" y2="301.11" stroke="#111" stroke-width="1"/>
<line x1="130.65" y1="304.68" x2="130.65" y2="305.77" stroke="#111" stroke-width="1"/>
<rect x="110.90" y="301.11" width="39.5" height="3.57" fill="none" stroke="#111" stroke-width="1"/>
<line x1="110.90" y1="302.89" x2="150.40" y2="302.89" stroke="#000" stroke-width="2"/>
<line x1="185.8" y1="335.15" x2="185.8" y2="351.26" stroke="#111" stroke-width="1"/>
<line x1="185.8" y1="362.68" x2="185.8" y2="374.77" stroke="#111" stroke-width="1"/>
<rect x="166.19" y="351.26" width="39.22" height="11.42" fill="none" stroke="#111" stroke-width="1"/>
<line x1="166.19" y1="355.69" x2="205.41" y2="355.69" stroke="#000" stroke-width="2"/>
<line x1="240.88" y1="398.83" x2="240.88" y2="407.24" stroke="#111" stroke-width="1"/>
<line x1="240.88" y1="417.7" x2="240.88" y2="422.27" stroke="#111" stroke-width="1"/>
<rect x="221.28" y="407.24" width="39.2" height="10.46" fill="none" stroke="#111" stroke-width="1"/>
<line x1="221.28" y1="413.5" x2="260.48" y2="413.5" stroke="#000" stroke-width="2"/>
<line x1="296.06" y1="423.45" x2="296.06" y2="425.25" stroke="#111" stroke-width="1"/>
<line x1="296.06" y1="431.98" x2="296.06" y2="434.87" stroke="#111" stroke-width="1"/>
<rect x="276.40" y="425.25" width="39.32" height="6.73" fill="none" stroke="#111" stroke-width="1"/>
<line x1="276.40" y1="428.86" x2="315.72" y2="428.86" stroke="#000" stroke-width="2"/>
<circle cx="62.05" cy="352.58" r="2.65" fill="#8B0000" fill-opacity="0.86"/>
<rect x="65.86" y="351.13" width="4.88" height="4.88" fill="#8B0000" fill-opacity="0.86"/>
<rect x="80.75" y="350.14" width="4.88" height="4.88" fill="#8B0000" fill-opacity="0.86"/>
<circle cx="70.78" cy="348.01" r="2.65" fill="#8B0000" fill-opacity="0.86"/>
<circle cx="89.34" cy="342.55" r="2.65" fill="#4f4f4f" fill-opacity="0.86"/>
<circle cx="62.34" cy="344.34" r="2.65" fill="#FF1493" fill-opacity="0.86"/>
<circle cx="73.26" cy="343.34" r="2.65" fill="#FF1493" fill-opacity="0.86"/>
<circle cx="67.31" cy="346.62" r="2.65" fill="#EE9A00" fill-opacity="0.86"/>
<circle cx="90.14" cy="346.32" r="2.65" fill="#EE9A00" fill-opacity="0.86"/>
<circle cx="80.01" cy="345.43" r="2.65" fill="#4f4f4f" fill-opacity="0.86"/>
<circle cx="80.01" cy="344.63" r="2.65" fill="#2E8B57" fill-opacity="0.86"/>
<circle cx="64.82" cy="344.34" r="2.65" fill="#4169E1" fill-opacity="0.86"/>
<circle cx="71.28" cy="344.04" r="2.65" fill="#9400D3" fill-opacity="0.86"/>
<circle cx="78.23" cy="348.31" r="2.65" fill="#9400D3" fill-opacity="0.86"/>
<circle cx="74.75" cy="346.82" r="2.65" fill="#4169E1" fill-opacity="0.86"/>
<circle cx="85.18" cy="347.81" r="2.65" fill="#4169E1" fill-opacity="0.86"/>
<rect x="85.02" y="346.36" width="4.88" height="4.88" fill="#4169E1" fill-opacity="0.86"/>
<rect x="84.72" y="349.84" width="4.88" height="4.88" fill="#2E8B57" fill-opacity="0.86"/>
<rect x="62.88" y="349.14" width="4.88" height="4.88" fill="#4169E1" fill-opacity="0.86"/>
<rect x="67.35" y="349.14" width="4.88" height="4.88" fill="#4169E1" fill-opacity="0.86"/>
<rect x="73.30" y="349.34" width="4.88" height="4.88" fill="#2E8B57" fill-opacity="0.86"/>
<polygon points="75.25,350.95 78.73,356.64 71.77,356.64" fill="#2E8B57" fill-opacity="0.86"/>
<polygon points="75.25,353.63 78.73,359.32 71.77,359.32" fill="#4169E1" fill-opacity="0.86"/>
<polygon points="73.26,359.79 76.74,365.49 69.78,365.49" fill="#4169E1" fill-opacity="0.86"/>
<polygon points="119.63,293.93 123.11,299.62 116.15,299.62" fill="#4169E1" fill-opacity="0.86"/>
<circle cx="124.3" cy="298.82" r="2.65" fill="#2E8B57" fill-opacity="0.86"/>
<circle cx="131.25" cy="297.63" r="2.65" fill="#EE9A00" fill-opacity="0.86"/>
<circle cx="129.26" cy="299.32" r="2.65" fill="#EE9A00" fill-opacity="0.86"/>
<rect x="117.19" y="297.87" width="4.88" height="4.88" fill="#2E8B57" fill-opacity="0.86"/>
<circle cx="143.16" cy="301.01" r="2.65" fill="#4169E1" fill-opacity="0.86"/>
<circle cx="139.19" cy="301.6" r="2.65" fill="#FF1493" fill-opacity="0.86"/>
<circle cx="125.79" cy="302.8" r="2.65" fill="#8B0000" fill-opacity="0.86"/>
<circle cx="128.77" cy="302.3" r="2.65" fill="#8B0000" fill-opacity="0.86"/>
<circle cx="118.05" cy="304.28" r="2.65" fill="#9400D3" fill-opacity="0.86"/>
<circle cx="133.93" cy="303.29" r="2.65" fill="#4169E1" fill-opacity="0.86"/>
<rect x="136.25" y="301.84" width="4.88" height="4.88" fill="#4169E1" fill-opacity="0.86"/>
<circle cx="142.66" cy="303.79" r="2.65" fill="#2E8B57" fill-opacity="0.86"/>
<circle cx="123.31" cy="305.77" r="2.65" fill="#4f4f4f" fill-opacity="0.86"/>
<rect x="129.11" y="305.82" width="4.88" height="4.88" fill="#8B0000" fill-opacity="0.86"/>
<rect x="133.08" y="306.31" width="4.88" height="4.88" fill="#2E8B57" fill-opacity="0.86"/>
<rect x="137.25" y="306.51" width="4.88" height="4.88" fill="#4169E1" fill-opacity="0.86"/>
<circle cx="124.99" cy="314.21" r="2.65" fill="#4f4f4f" fill-opacity="0.86"/>
<rect x="138.54" y="312.96" width="4.88" height="4.88" fill="#2E8B57" fill-opacity="0.86"/>
<circle cx="116.36" cy="302.3" r="2.65" fill="#4169E1" fill-opacity="0.86"/>
<polygon points="190.36,326.73 193.84,332.43 186.88,332.43" fill="#8B0000" fill-opacity="0.86"/>
<rect x="173.15" y="332.30" width="4.88" height="4.88" fill="#8B0000" fill-opacity="0.86"/>
<rect x="190.34" y="337.81" width="4.88" height="4.88" fill="#8B0000" fill-opacity="0.86"/>
<rect x="197.06" y="342.11" width="4.88" height="4.88" fill="#4169E1" fill-opacity="0.86"/>
<rect x="171.14" y="344.12" width="4.88" height="4.88" fill="#4169E1" fill-opacity="0.86"/>
<circle cx="179.35" cy="347.91" r="2.65" fill="#4f4f4f" fill-opacity="0.86"/>
<circle cx="185.4" cy="346.96" r="2.65" fill="#8B0000" fill-opacity="0.86"/>
<polygon points="199.09,345.27 202.57,350.96 195.61,350.96" fill="#4169E1" fill-opacity="0.86"/>
<circle cx="174.25" cy="350.59" r="2.65" fill="#8B0000" fill-opacity="0.86"/>
<circle cx="171.96" cy="353.68" r="2.65" fill="#FF1493" fill-opacity="0.86"/>
<polygon points="183.65,347.55 187.13,353.25 180.17,353.25" fill="#4169E1" fill-opacity="0.86"/>
<circle cx="194.39" cy="351.53" r="2.65" fill="#EE9A00" fill-opacity="0.86"/>
<circle cx="179.35" cy="352.87" r="2.65" fill="#9400D3" fill-opacity="0.86"/>
<circle cx="191.04" cy="353.95" r="2.65" fill="#9400D3" fill-opacity="0.86"/>
<circle cx="178.68" cy="356.9" r="2.65" fill="#4169E1" fill-opacity="0.86"/>
<circle cx="188.35" cy="357.31" r="2.65" fill="#4169E1" fill-opacity="0.86"/>
<circle cx="197.08" cy="356.64" r="2.65" fill="#8B0000" fill-opacity="0.86"/>
<circle cx="199.09" cy="357.98" r="2.65" fill="#9400D3" fill-opacity="0.86"/>
<circle cx="184.32" cy="352.61" r="2.65" fill="#4169E1" fill-opacity="0.86"/>
<polygon points="190.36,357.62 193.84,363.31 186.88,363.31" fill="#2E8B57" fill-opacity="0.86"/>
<circle cx="199.09" cy="362.01" r="2.65" fill="#2E8B57" fill-opacity="0.86"/>
<circle cx="172.23" cy="363.08" r="2.65" fill="#FF1493" fill-opacity="0.86"/>
<circle cx="189.69" cy="364.96" r="2.65" fill="#EE9A00" fill-opacity="0.86"/>
<rect x="174.90" y="363.60" width="4.88" height="4.88" fill="#2E8B57" fill-opacity="0.86"/>
<circle cx="192.65" cy="367.78" r="2.65" fill="#FF1493" fill-opacity="0.86"/>
<polygon points="182.71,367.02 186.19,372.71 179.23,372.71" fill="#2E8B57" fill-opacity="0.86"/>
<circle cx="189.69" cy="373.83" r="2.65" fill="#2E8B57" fill-opacity="0.86"/>
<rect x="169.79" y="379.04" width="4.88" height="4.88" fill="#2E8B57" fill-opacity="0.86"/>
<rect x="185.24" y="377.70" width="4.88" height="4.88" fill="#2E8B57" fill-opacity="0.86"/>
<polygon points="239.68,395.76 243.16,401.45 236.20,401.45" fill="#4169E1" fill-opacity="0.86"/>
<circle cx="248.45" cy="400.39" r="2.65" fill="#4f4f4f" fill-opacity="0.86"/>
<circle cx="252.3" cy="402.79" r="2.65" fill="#EE9A00" fill-opacity="0.86"/>
<circle cx="231.86" cy="405.44" r="2.65" fill="#EE9A00" fill-opacity="0.86"/>
<rect x="234.83" y="404.20" width="4.88" height="4.88" fill="#8B0000" fill-opacity="0.86"/>
<circle cx="243.89" cy="407.24" r="2.65" fill="#4169E1" fill-opacity="0.86"/>
<circle cx="251.7" cy="406.64" r="2.65" fill="#4169E1" fill-opacity="0.86"/>
<circle cx="254.11" cy="407.0" r="2.65" fill="#4169E1" fill-opacity="0.86"/>
<rect x="226.78" y="407.21" width="4.88" height="4.88" fill="#8B0000" fill-opacity="0.86"/>
<circle cx="234.03" cy="410.61" r="2.65" fill="#EE9A00" fill-opacity="0.86"/>
<circle cx="245.09" cy="409.05" r="2.65" fill="#8B0000" fill-opacity="0.86"/>
<circle cx="255.31" cy="409.29" r="2.65" fill="#2E8B57" fill-opacity="0.86"/>
<circle cx="251.1" cy="409.05" r="2.65" fill="#FF1493" fill-opacity="0.86"/>
<polygon points="238.48,409.82 241.96,415.51 235.00,415.51" fill="#4169E1" fill-opacity="0.86"/>
<circle cx="229.22" cy="413.86" r="2.65" fill="#2E8B57" fill-opacity="0.86"/>
<circle cx="227.89" cy="413.26" r="2.65" fill="#4169E1" fill-opacity="0.86"/>
<polygon points="252.30,410.19 255.78,415.88 248.82,415.88" fill="#8B0000" fill-opacity="0.86"/>
<circle cx="237.87" cy="417.22" r="2.65" fill="#FF1493" fill-opacity="0.86"/>
<circle cx="242.08" cy="417.46" r="2.65" fill="#9400D3" fill-opacity="0.86"/>
<rect x="242.65" y="415.62" width="4.88" height="4.88" fill="#8B0000" fill-opacity="0.86"/>
<circle cx="255.31" cy="416.86" r="2.65" fill="#9400D3" fill-opacity="0.86"/>
<circle cx="250.5" cy="415.66" r="2.65" fill="#FF1493" fill-opacity="0.86"/>
<rect x="231.23" y="414.06" width="4.88" height="4.88" fill="#2E8B57" fill-opacity="0.86"/>
<polygon points="231.50,416.20 234.98,421.89 228.02,421.89" fill="#2E8B57" fill-opacity="0.86"/>
<circle cx="235.83" cy="419.87" r="2.65" fill="#4f4f4f" fill-opacity="0.86"/>
<circle cx="226.45" cy="422.03" r="2.65" fill="#2E8B57" fill-opacity="0.86"/>
<circle cx="253.87" cy="420.83" r="2.65" fill="#8B0000" fill-opacity="0.86"/>
<rect x="238.44" y="421.28" width="4.88" height="4.88" fill="#2E8B57" fill-opacity="0.86"/>
<rect x="246.62" y="422.24" width="4.88" height="4.88" fill="#2E8B57" fill-opacity="0.86"/>
<circle cx="287.46" cy="429.86" r="2.65" fill="#FF1493" fill-opacity="0.86"/>
<circle cx="283.62" cy="434.07" r="2.65" fill="#EE9A00" fill-opacity="0.86"/>
<circle cx="292.87" cy="432.26" r="2.65" fill="#8B0000" fill-opacity="0.86"/>
<circle cx="301.89" cy="432.86" r="2.65" fill="#EE9A00" fill-opacity="0.86"/>
<polygon points="284.46,418.97 287.94,424.66 280.98,424.66" fill="#4169E1" fill-opacity="0.86"/>
<polygon points="297.68,418.37 301.16,424.06 294.20,424.06" fill="#4169E1" fill-opacity="0.86"/>
<circle cx="303.7" cy="422.64" r="2.65" fill="#4169E1" fill-opacity="0.86"/>
<circle cx="288.06" cy="424.45" r="2.65" fill="#2E8B57" fill-opacity="0.86"/>
<circle cx="291.67" cy="425.89" r="2.65" fill="#9400D3" fill-opacity="0.86"/>
<circle cx="305.5" cy="425.65" r="2.65" fill="#4169E1" fill-opacity="0.86"/>
<rect x="306.06" y="422.61" width="4.88" height="4.88" fill="#4169E1" fill-opacity="0.86"/>
<rect x="280.21" y="425.01" width="4.88" height="4.88" fill="#2E8B57" fill-opacity="0.86"/>
<rect x="304.26" y="426.82" width="4.88" height="4.88" fill="#2E8B57" fill-opacity="0.86"/>
<rect x="295.24" y="428.62" width="4.88" height="4.88" fill="#2E8B57" fill-opacity="0.86"/>
<polygon points="291.07,430.39 294.55,436.08 287.59,436.08" fill="#8B0000" fill-opacity="0.86"/>
<polygon points="296.48,432.20 299.96,437.89 293.00,437.89" fill="#8B0000" fill-opacity="0.86"/>
<polygon points="304.30,431.00 307.78,436.69 300.82,436.69" fill="#8B0000" fill-opacity="0.86"/>
<polygon points="310.31,428.59 313.79,434.28 306.83,434.28" fill="#8B0000" fill-opacity="0.86"/>
<circle cx="299.49" cy="424.45" r="2.65" fill="#4169E1" fill-opacity="0.86"/>
<text class="r l" x="73.76" y="335.80" font-size="11.8" text-anchor="middle">a</text>
<text class="r l" x="130.55" y="292.47" font-size="11.8" text-anchor="middle">b</text>
<text class="r l" x="185.4" y="327.76" font-size="11.8" text-anchor="middle">c</text>
<text class="r l" x="240.52" y="394.42" font-size="11.8" text-anchor="middle">d</text>
<text class="r l" x="295.88" y="416.87" font-size="11.8" text-anchor="middle">e</text>
<rect x="42.3" y="277.4" width="287.00" height="171.85" fill="none" stroke="#848484" stroke-width="1.4" stroke-linejoin="round"/>
<line x1="39.5" y1="307.3" x2="42.3" y2="307.3" stroke="#2a2a2a" stroke-width="1.6"/>
<text class="r" transform="translate(37.50,312.50) scale(0.885,1.04)" font-size="14.0" text-anchor="end">30</text>
<line x1="39.5" y1="352.0" x2="42.3" y2="352.0" stroke="#2a2a2a" stroke-width="1.6"/>
<text class="r" transform="translate(37.50,357.20) scale(0.885,1.04)" font-size="14.0" text-anchor="end">20</text>
<line x1="39.5" y1="396.6" x2="42.3" y2="396.6" stroke="#2a2a2a" stroke-width="1.6"/>
<text class="r" transform="translate(37.50,401.80) scale(0.885,1.04)" font-size="14.0" text-anchor="end">10</text>
<line x1="39.5" y1="441.1" x2="42.3" y2="441.1" stroke="#2a2a2a" stroke-width="1.6"/>
<text class="r" transform="translate(37.50,446.30) scale(0.885,1.04)" font-size="14.0" text-anchor="end">0</text>
<line x1="75.4" y1="449.25" x2="75.4" y2="452.05" stroke="#2a2a2a" stroke-width="1.6"/>
<text class="r" x="74.80" y="465.05" font-size="13.75" text-anchor="middle">Initial</text>
<line x1="130.5" y1="449.25" x2="130.5" y2="452.05" stroke="#2a2a2a" stroke-width="1.6"/>
<text class="r" x="129.90" y="465.05" font-size="13.75" text-anchor="middle">Color</text>
<text class="r" x="129.90" y="477.45" font-size="13.75" text-anchor="middle">change</text>
<line x1="185.8" y1="449.25" x2="185.8" y2="452.05" stroke="#2a2a2a" stroke-width="1.6"/>
<text class="r" x="183.80" y="465.05" font-size="13.75" text-anchor="middle">First</text>
<text class="r" x="185.20" y="477.45" font-size="13.75" text-anchor="middle">crack</text>
<line x1="241.2" y1="449.25" x2="241.2" y2="452.05" stroke="#2a2a2a" stroke-width="1.6"/>
<text class="r" x="240.60" y="465.05" font-size="13.75" text-anchor="middle">Second</text>
<text class="r" x="240.60" y="477.45" font-size="13.75" text-anchor="middle">crack</text>
<line x1="296.5" y1="449.25" x2="296.5" y2="452.05" stroke="#2a2a2a" stroke-width="1.6"/>
<text class="r" x="295.90" y="465.05" font-size="13.75" text-anchor="middle">Final</text>
<text class="b" transform="translate(5.3,367.9) scale(0.91,1.03)" font-size="13.8">b*</text>
<text class="b" x="188.30" y="501.3" font-size="13.8" text-anchor="middle">Roast phase</text>
</g>
<g>
<rect x="396.2" y="277.1" width="287.4" height="172.3" fill="#fff" stroke="#808080" stroke-width="1.15"/>
<text class="b" x="407" y="298.9" font-size="13.7">Coffee Origins</text>
<text class="b" x="520.8" y="298.9" font-size="13.7">Roast Profiles</text>
<circle cx="414.2" cy="316.5" r="6.2" fill="none" stroke="#333" stroke-width="1.1"/>
<text class="r" x="426.3" y="320.9" font-size="13.8">USF</text>
<polygon points="414.2,333.8 420.2,344.2 408.2,344.2" fill="none" stroke="#333" stroke-width="1.1"/>
<text class="r" x="426.6" y="343.5" font-size="13.8">SUM</text>
<rect x="408" y="355.7" width="12.4" height="10.6" fill="none" stroke="#333" stroke-width="1.05"/>
<text class="r" x="426.3" y="365.6" font-size="13.8">ELS</text>
<ellipse cx="528.1" cy="316.8" rx="7.1" ry="6.6" fill="#8B0000"/>
<text class="r" x="541.7" y="319.5" font-size="14.05">Fast Start</text>
<ellipse cx="528.1" cy="337.4" rx="7.1" ry="6.6" fill="#2E8B57"/>
<text class="r" x="541.7" y="342.2" font-size="14.05">Slow Start</text>
<ellipse cx="528.1" cy="357.0" rx="7.1" ry="6.6" fill="#FF1493"/>
<text class="r" x="541.7" y="360.5" font-size="14.05">Medium</text>
<ellipse cx="528.1" cy="379.2" rx="7.1" ry="6.6" fill="#000000"/>
<text class="r" x="541.7" y="383.7" font-size="14.05">Production</text>
<ellipse cx="528.1" cy="398.6" rx="7.1" ry="6.6" fill="#9400D3"/>
<text class="r" x="541.7" y="402.7" font-size="14.05">Exaggerated Flick</text>
<ellipse cx="528.1" cy="418.1" rx="7.1" ry="6.6" fill="#EE9A00"/>
<text class="r" x="541.7" y="422.4" font-size="14.05">Negative Rate of Rise</text>
<ellipse cx="528.1" cy="437.3" rx="7.1" ry="6.6" fill="#4169E1"/>
<text class="r" x="541.7" y="441.6" font-size="14.05">Extended Maillard</text>
</g>
</g>
</svg>
</body>
</html>
